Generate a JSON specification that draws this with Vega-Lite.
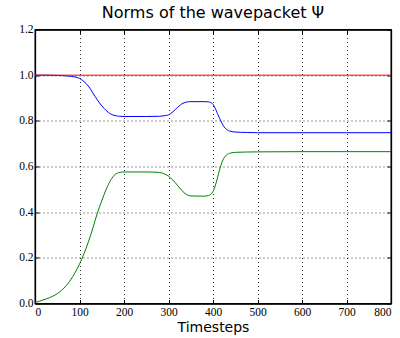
{
  "$schema": "https://vega.github.io/schema/vega-lite/v6.json",
  "width": 356,
  "height": 274,
  "autosize": {"type": "none"},
  "padding": {"left": 35, "top": 29.5, "right": 9, "bottom": 34.5},
  "background": "white",
  "title": {
    "text": "Norms of the wavepacket Ψ",
    "font": "DejaVu Sans",
    "fontSize": 16,
    "fontWeight": "normal",
    "color": "black",
    "frame": "group",
    "anchor": "middle",
    "baseline": "alphabetic",
    "offset": 10,
    "dy": 20
  },
  "config": {
    "view": {"stroke": "black", "strokeWidth": 1.3},
    "axis": {
      "domainColor": "black",
      "domainWidth": 1.3,
      "tickColor": "black",
      "tickSize": -4,
      "gridColor": "black",
      "gridDash": [1, 3],
      "gridOpacity": 0.8,
      "gridWidth": 1,
      "labelFont": "Liberation Serif",
      "labelFontSize": 11.5,
      "labelColor": "black",
      "titleFont": "DejaVu Sans",
      "titleFontSize": 14,
      "titleFontWeight": "normal",
      "titleColor": "black"
    }
  },
  "data": {
    "values": [
      {"t": 0, "v": 1.0, "s": "blue"},
      {"t": 25, "v": 1.0, "s": "blue"},
      {"t": 50, "v": 0.999, "s": "blue"},
      {"t": 75, "v": 0.996, "s": "blue"},
      {"t": 90, "v": 0.992, "s": "blue"},
      {"t": 100, "v": 0.986, "s": "blue"},
      {"t": 110, "v": 0.972, "s": "blue"},
      {"t": 120, "v": 0.952, "s": "blue"},
      {"t": 130, "v": 0.922, "s": "blue"},
      {"t": 140, "v": 0.892, "s": "blue"},
      {"t": 150, "v": 0.866, "s": "blue"},
      {"t": 160, "v": 0.845, "s": "blue"},
      {"t": 170, "v": 0.830, "s": "blue"},
      {"t": 180, "v": 0.823, "s": "blue"},
      {"t": 190, "v": 0.820, "s": "blue"},
      {"t": 200, "v": 0.819, "s": "blue"},
      {"t": 250, "v": 0.819, "s": "blue"},
      {"t": 280, "v": 0.820, "s": "blue"},
      {"t": 290, "v": 0.822, "s": "blue"},
      {"t": 300, "v": 0.826, "s": "blue"},
      {"t": 310, "v": 0.840, "s": "blue"},
      {"t": 320, "v": 0.858, "s": "blue"},
      {"t": 330, "v": 0.874, "s": "blue"},
      {"t": 340, "v": 0.882, "s": "blue"},
      {"t": 350, "v": 0.884, "s": "blue"},
      {"t": 380, "v": 0.884, "s": "blue"},
      {"t": 390, "v": 0.883, "s": "blue"},
      {"t": 395, "v": 0.880, "s": "blue"},
      {"t": 400, "v": 0.872, "s": "blue"},
      {"t": 405, "v": 0.855, "s": "blue"},
      {"t": 410, "v": 0.832, "s": "blue"},
      {"t": 415, "v": 0.810, "s": "blue"},
      {"t": 420, "v": 0.790, "s": "blue"},
      {"t": 425, "v": 0.773, "s": "blue"},
      {"t": 430, "v": 0.763, "s": "blue"},
      {"t": 440, "v": 0.754, "s": "blue"},
      {"t": 450, "v": 0.751, "s": "blue"},
      {"t": 475, "v": 0.749, "s": "blue"},
      {"t": 500, "v": 0.748, "s": "blue"},
      {"t": 600, "v": 0.748, "s": "blue"},
      {"t": 700, "v": 0.748, "s": "blue"},
      {"t": 800, "v": 0.748, "s": "blue"},
      {"t": 0, "v": 0.005, "s": "green"},
      {"t": 10, "v": 0.01, "s": "green"},
      {"t": 25, "v": 0.02, "s": "green"},
      {"t": 40, "v": 0.032, "s": "green"},
      {"t": 50, "v": 0.043, "s": "green"},
      {"t": 60, "v": 0.058, "s": "green"},
      {"t": 70, "v": 0.078, "s": "green"},
      {"t": 80, "v": 0.103, "s": "green"},
      {"t": 90, "v": 0.135, "s": "green"},
      {"t": 100, "v": 0.172, "s": "green"},
      {"t": 110, "v": 0.218, "s": "green"},
      {"t": 120, "v": 0.27, "s": "green"},
      {"t": 130, "v": 0.33, "s": "green"},
      {"t": 140, "v": 0.395, "s": "green"},
      {"t": 150, "v": 0.45, "s": "green"},
      {"t": 160, "v": 0.50, "s": "green"},
      {"t": 170, "v": 0.54, "s": "green"},
      {"t": 180, "v": 0.565, "s": "green"},
      {"t": 190, "v": 0.574, "s": "green"},
      {"t": 200, "v": 0.576, "s": "green"},
      {"t": 250, "v": 0.576, "s": "green"},
      {"t": 280, "v": 0.574, "s": "green"},
      {"t": 290, "v": 0.568, "s": "green"},
      {"t": 300, "v": 0.558, "s": "green"},
      {"t": 310, "v": 0.540, "s": "green"},
      {"t": 320, "v": 0.518, "s": "green"},
      {"t": 330, "v": 0.495, "s": "green"},
      {"t": 340, "v": 0.478, "s": "green"},
      {"t": 350, "v": 0.471, "s": "green"},
      {"t": 380, "v": 0.470, "s": "green"},
      {"t": 390, "v": 0.473, "s": "green"},
      {"t": 395, "v": 0.478, "s": "green"},
      {"t": 400, "v": 0.49, "s": "green"},
      {"t": 405, "v": 0.515, "s": "green"},
      {"t": 410, "v": 0.55, "s": "green"},
      {"t": 415, "v": 0.588, "s": "green"},
      {"t": 420, "v": 0.618, "s": "green"},
      {"t": 425, "v": 0.638, "s": "green"},
      {"t": 430, "v": 0.650, "s": "green"},
      {"t": 440, "v": 0.659, "s": "green"},
      {"t": 450, "v": 0.662, "s": "green"},
      {"t": 500, "v": 0.664, "s": "green"},
      {"t": 600, "v": 0.665, "s": "green"},
      {"t": 700, "v": 0.665, "s": "green"},
      {"t": 800, "v": 0.665, "s": "green"},
      {"t": 0, "v": 1.0, "s": "red"},
      {"t": 400, "v": 1.0, "s": "red"},
      {"t": 800, "v": 1.0, "s": "red"}
    ]
  },
  "layer": [
    {
      "mark": {"type": "line", "strokeWidth": 1, "interpolate": "monotone"},
      "encoding": {
        "x": {
          "field": "t",
          "type": "quantitative",
          "scale": {"domain": [0, 800], "nice": false},
          "axis": {
            "title": "Timesteps",
            "values": [0, 100, 200, 300, 400, 500, 600, 700, 800],
            "labelPadding": 7,
            "titleBaseline": "alphabetic",
            "titleY": 27.5
          }
        },
        "y": {
          "field": "v",
          "type": "quantitative",
          "scale": {"domain": [0, 1.2], "nice": false},
          "axis": {
            "title": null,
            "values": [0, 0.2, 0.4, 0.6, 0.8, 1.0, 1.2],
            "format": ".1f",
            "labelPadding": 6
          }
        },
        "color": {
          "field": "s",
          "type": "nominal",
          "scale": {"domain": ["blue", "green", "red"], "range": ["#0000ff", "#008000", "#ff0000"]},
          "legend": null
        }
      }
    },
    {
      "mark": {"type": "line", "opacity": 0},
      "encoding": {
        "x": {
          "field": "t",
          "type": "quantitative",
          "scale": {"domain": [0, 800], "nice": false},
          "axis": {
            "orient": "top",
            "title": null,
            "labels": false,
            "grid": false,
            "values": [0, 100, 200, 300, 400, 500, 600, 700, 800]
          }
        },
        "y": {
          "field": "v",
          "type": "quantitative",
          "scale": {"domain": [0, 1.2], "nice": false},
          "axis": {
            "orient": "right",
            "title": null,
            "labels": false,
            "grid": false,
            "values": [0, 0.2, 0.4, 0.6, 0.8, 1.0, 1.2]
          }
        },
        "detail": {"field": "s"}
      }
    }
  ],
  "resolve": {"axis": {"x": "independent", "y": "independent"}}
}
